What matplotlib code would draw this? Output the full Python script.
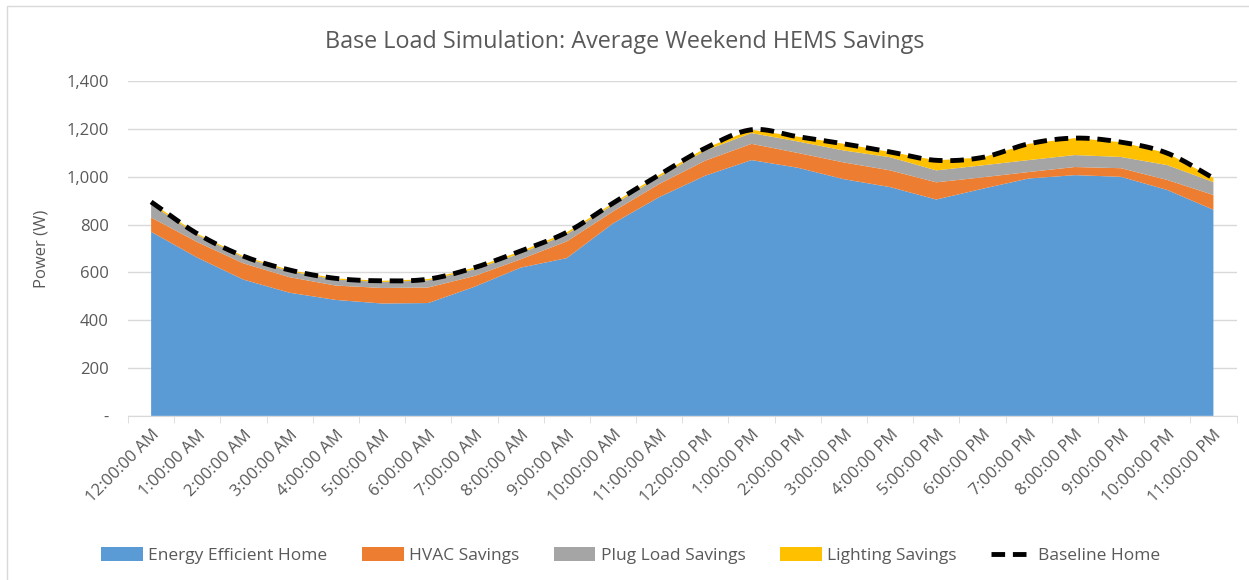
import numpy as np
import matplotlib.pyplot as plt
from matplotlib.patches import Rectangle
from matplotlib.ticker import FuncFormatter

# hourly values (W)
hours = ['12:00:00 AM', '1:00:00 AM', '2:00:00 AM', '3:00:00 AM', '4:00:00 AM', '5:00:00 AM',
         '6:00:00 AM', '7:00:00 AM', '8:00:00 AM', '9:00:00 AM', '10:00:00 AM', '11:00:00 AM',
         '12:00:00 PM', '1:00:00 PM', '2:00:00 PM', '3:00:00 PM', '4:00:00 PM', '5:00:00 PM',
         '6:00:00 PM', '7:00:00 PM', '8:00:00 PM', '9:00:00 PM', '10:00:00 PM', '11:00:00 PM']
efficient = [770, 662, 570, 515, 485, 470, 472, 540, 620, 660, 805, 915,
             1005, 1070, 1038, 990, 957, 905, 950, 993, 1007, 1000, 945, 862]
hvac = [60, 65, 68, 65, 60, 65, 65, 45, 35, 70, 50, 55,
        63, 68, 62, 70, 70, 72, 48, 27, 34, 36, 42, 62]
plug = [55, 30, 25, 25, 25, 25, 30, 28, 25, 30, 28, 30,
        42, 45, 48, 50, 55, 50, 50, 50, 50, 47, 62, 54]
lighting = [8, 5, 5, 5, 5, 5, 5, 7, 8, 8, 7, 8,
            10, 14, 20, 28, 22, 42, 33, 68, 71, 62, 50, 17]
baseline = [895, 762, 668, 610, 575, 565, 572, 620, 690, 768, 890, 1008,
            1120, 1197, 1168, 1138, 1104, 1069, 1081, 1138, 1162, 1145, 1099, 995]

series_names = ['Energy Efficient Home', 'HVAC Savings', 'Plug Load Savings', 'Lighting Savings']
colors = ['#5B9BD5', '#ED7D31', '#A5A5A5', '#FFC000']
text_col = '#595959'

plt.rcParams['font.family'] = ['Open Sans', 'DejaVu Sans']


def smooth(y, n=20):
    # catmull-rom curve through the points, like Excel's smoothed line
    y = np.asarray(y, dtype=float)
    p = np.concatenate([[2 * y[0] - y[1]], y, [2 * y[-1] - y[-2]]])
    xs, ys = [], []
    for i in range(len(y) - 1):
        t = np.linspace(0, 1, n, endpoint=False)
        p0, p1, p2, p3 = p[i], p[i + 1], p[i + 2], p[i + 3]
        ys.append(0.5 * (2 * p1 + (-p0 + p2) * t + (2 * p0 - 5 * p1 + 4 * p2 - p3) * t ** 2
                         + (-p0 + 3 * p1 - 3 * p2 + p3) * t ** 3))
        xs.append(i + t)
    xs.append([len(y) - 1])
    ys.append([y[-1]])
    return np.concatenate(xs), np.concatenate(ys)


fig = plt.figure(figsize=(12.49, 5.80), dpi=100)
ax = fig.add_axes([0.1025, 0.283, 0.8875, 0.577])

x = np.arange(len(hours))
ax.stackplot(x, efficient, hvac, plug, lighting, colors=colors, labels=series_names, lw=0)
bx, by = smooth(baseline)
ax.plot(bx, by, color='black', lw=3.5, ls=(0, (2.8, 1.6)), label='Baseline Home')

ax.set_xlim(-0.5, len(hours) - 0.5)
ax.set_ylim(0, 1400)
ax.set_yticks(np.arange(0, 1401, 200))
ax.yaxis.set_major_formatter(FuncFormatter(lambda v, p: '-' if v == 0 else f'{int(v):,}'))
ax.grid(axis='y', color='#D9D9D9', lw=1)
ax.set_axisbelow(True)

ax.set_xticks(x)
ax.set_xticklabels(hours, rotation=45, ha='right', rotation_mode='anchor')
ax.set_xticks(np.arange(-0.5, len(hours)), minor=True)
ax.tick_params(axis='x', which='major', length=0, pad=8, labelsize=12, colors=text_col)
ax.tick_params(axis='x', which='minor', length=5, color='#D9D9D9')
ax.tick_params(axis='y', length=0, pad=14, labelsize=12, colors=text_col)

for s in ['top', 'right', 'left']:
    ax.spines[s].set_visible(False)
ax.spines['bottom'].set_color('#D9D9D9')

ax.set_ylabel('Power (W)', color=text_col, fontsize=12, labelpad=12)
fig.text(0.5, 0.927, 'Base Load Simulation: Average Weekend HEMS Savings',
         ha='center', va='center', fontsize=16.8, color=text_col)

handles, labels = ax.get_legend_handles_labels()
fig.legend(handles, labels, loc='center', bbox_to_anchor=(0.505, 0.042), ncol=5, frameon=False,
           fontsize=12.5, labelcolor=text_col, handlelength=2.4, handleheight=0.8,
           columnspacing=2.0, handletextpad=0.3)

fig.patches.append(Rectangle((0.006, -0.01), 1.0, 1.0, transform=fig.transFigure,
                             fill=False, edgecolor='#D9D9D9', lw=1))

fig.savefig('out.png', dpi=100)
